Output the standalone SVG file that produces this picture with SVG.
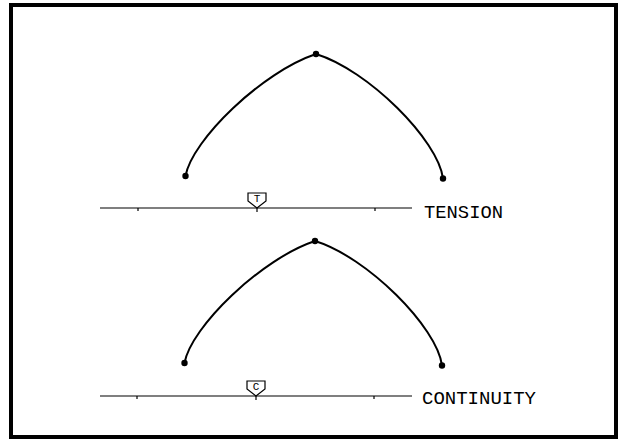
<svg xmlns="http://www.w3.org/2000/svg" width="625" height="439" viewBox="0 0 625 439">
<style>
.frame{fill:none;stroke:#000;stroke-width:4}
.curve{fill:none;stroke:#000;stroke-width:2}
.dot{fill:#000}
.scale{stroke:#000;stroke-width:1.2;fill:none}
.mark{fill:#fff;stroke:#000;stroke-width:1.2}
.lbl{font-family:"Liberation Mono",monospace;font-size:19px;fill:#000}
.ml{font-family:"Liberation Mono",monospace;font-size:11px;fill:#000;text-anchor:middle}
</style>
<rect class="frame" x="11" y="5" width="605" height="432"/>
<g id="tension-curve">
<path class="curve" d="M185.5,176 C192,140 262,72 316,54 C368,70 438,140 443,178.5"/>
<circle class="dot" cx="185.5" cy="176" r="3.2"/>
<circle class="dot" cx="316" cy="54" r="3.2"/>
<circle class="dot" cx="443" cy="178.5" r="3.2"/>
</g>
<g id="tension-scale">
<line class="scale" x1="100" y1="208" x2="412" y2="208"/>
<line class="scale" x1="138" y1="208" x2="138" y2="211"/>
<line class="scale" x1="375" y1="208" x2="375" y2="211"/>
<line class="scale" x1="257" y1="200" x2="257" y2="212"/>
<path class="mark" d="M248,193 H266 V201 L257,208 L248,201 Z"/>
<text class="ml" x="257" y="202">T</text>
<text class="lbl" x="424" y="217.5" textLength="79" lengthAdjust="spacingAndGlyphs">TENSION</text>
</g>
<g id="continuity-curve">
<path class="curve" d="M184.5,363 C191,327 261,259 315,241 C367,257 437,327 442,365.5"/>
<circle class="dot" cx="184.5" cy="363" r="3.2"/>
<circle class="dot" cx="315" cy="241" r="3.2"/>
<circle class="dot" cx="442" cy="365.5" r="3.2"/>
</g>
<g id="continuity-scale">
<line class="scale" x1="100" y1="396" x2="412" y2="396"/>
<line class="scale" x1="137" y1="396" x2="137" y2="399"/>
<line class="scale" x1="374" y1="396" x2="374" y2="399"/>
<line class="scale" x1="256" y1="388" x2="256" y2="400"/>
<path class="mark" d="M247,381 H265 V389 L256,396 L247,389 Z"/>
<text class="ml" x="256" y="390">C</text>
<text class="lbl" x="422" y="404" textLength="114" lengthAdjust="spacingAndGlyphs">CONTINUITY</text>
</g>
</svg>
